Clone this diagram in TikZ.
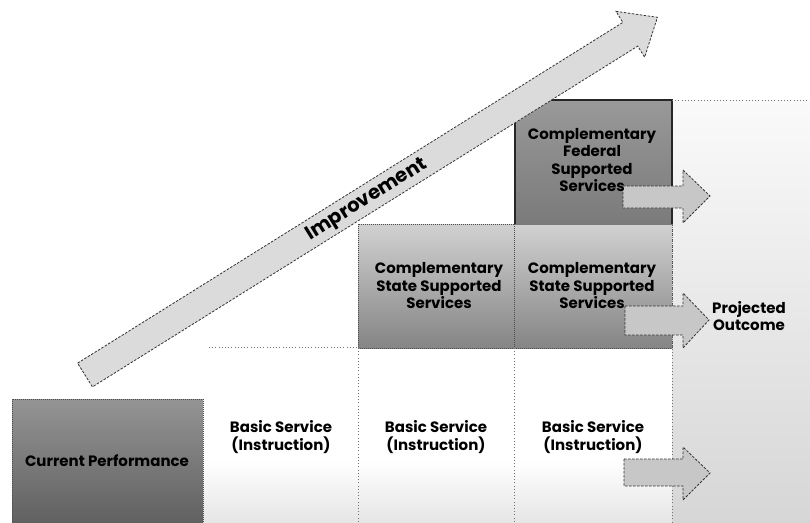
\documentclass[tikz,border=0pt]{standalone}
\usepackage{fontspec}
\setmainfont{Poppins}
\begin{document}
\begin{tikzpicture}[x=1pt,y=-1pt,
  lbl/.style={font=\bfseries\fontsize{15}{17.5}\selectfont, align=center, inner sep=0pt},
  biglbl/.style={font=\bfseries\fontsize{19.5}{22}\selectfont, inner sep=0pt},
  grid/.style={black!55, line width=0.6pt, dash pattern=on 0.8pt off 2.4pt},
  boxedge/.style={black!70, line width=0.7pt, dash pattern=on 1pt off 1pt},
  blockarrow/.style={fill=black!22, draw=black!80, line width=0.8pt, dash pattern=on 2.5pt off 1.5pt}
]
\useasboundingbox (0,0) rectangle (810,522);

% light textured field to the right of the columns
\shade[top color=black!2, bottom color=black!16] (672,100) rectangle (810,522);
% faint texture at the foot of the basic-service row
\shade[top color=white, bottom color=black!10] (203,460) rectangle (672,522);

% current performance block
\shade[top color=black!42, bottom color=black!62] (12,399) rectangle (203,522);
\draw[boxedge] (12,522) -- (12,399) -- (203,399) -- (203,522);

% state supported services band
\shade[top color=black!18, bottom color=black!48] (358,224) rectangle (672,348);
\draw[boxedge] (358,224) rectangle (672,348);
\draw[boxedge] (514,224) -- (514,348);

% federal supported services block
\shade[top color=black!40, bottom color=black!52] (515,100) rectangle (672,224);
\draw[black!85, line width=1.3pt] (515,224) -- (515,100) -- (672,100) -- (672,224);

% dotted guide lines
\draw[grid] (209,347) -- (358,347);
\draw[grid] (358,348) -- (358,522);
\draw[grid] (514,348) -- (514,522);
\draw[grid] (672,224) -- (672,522);
\draw[grid] (672,100) -- (810,100);

% improvement arrow
\begin{scope}[shift={(85,375)}, rotate=32]
  \draw[blockarrow, fill=black!14]
    (0,-14) -- (643,-14) -- (643,-27) -- (675,0) -- (643,27) -- (643,14) -- (0,14) -- cycle;
\end{scope}
\node[biglbl, rotate=32] (imp) at (367,200) {Improvement};

% outcome arrows
\draw[blockarrow] (623,186) -- (683,186) -- (683,170) -- (710,196) -- (683,223) -- (683,208) -- (623,208) -- cycle;
\draw[blockarrow] (625,306) -- (683,306) -- (683,293) -- (709,320) -- (683,348) -- (683,335) -- (625,335) -- cycle;
\draw[blockarrow] (624,459) -- (683,459) -- (683,447) -- (710,473) -- (683,500) -- (683,486) -- (624,486) -- cycle;

% labels
\node[lbl] (cur) at (107,461) {Current Performance};
\node[lbl] (b1) at (281,437) {Basic Service\\(Instruction)};
\node[lbl] (b2) at (436,437) {Basic Service\\(Instruction)};
\node[lbl] (b3) at (593,437) {Basic Service\\(Instruction)};
\node[lbl] (s1) at (439,286) {Complementary\\State Supported\\Services};
\node[lbl] (s2) at (592,286) {Complementary\\State Supported\\Services};
\node[lbl] (fed) at (592,160) {Complementary\\Federal\\Supported\\Services};
\node[lbl] (proj) at (749,316) {Projected\\Outcome};
\end{tikzpicture}
\end{document}
